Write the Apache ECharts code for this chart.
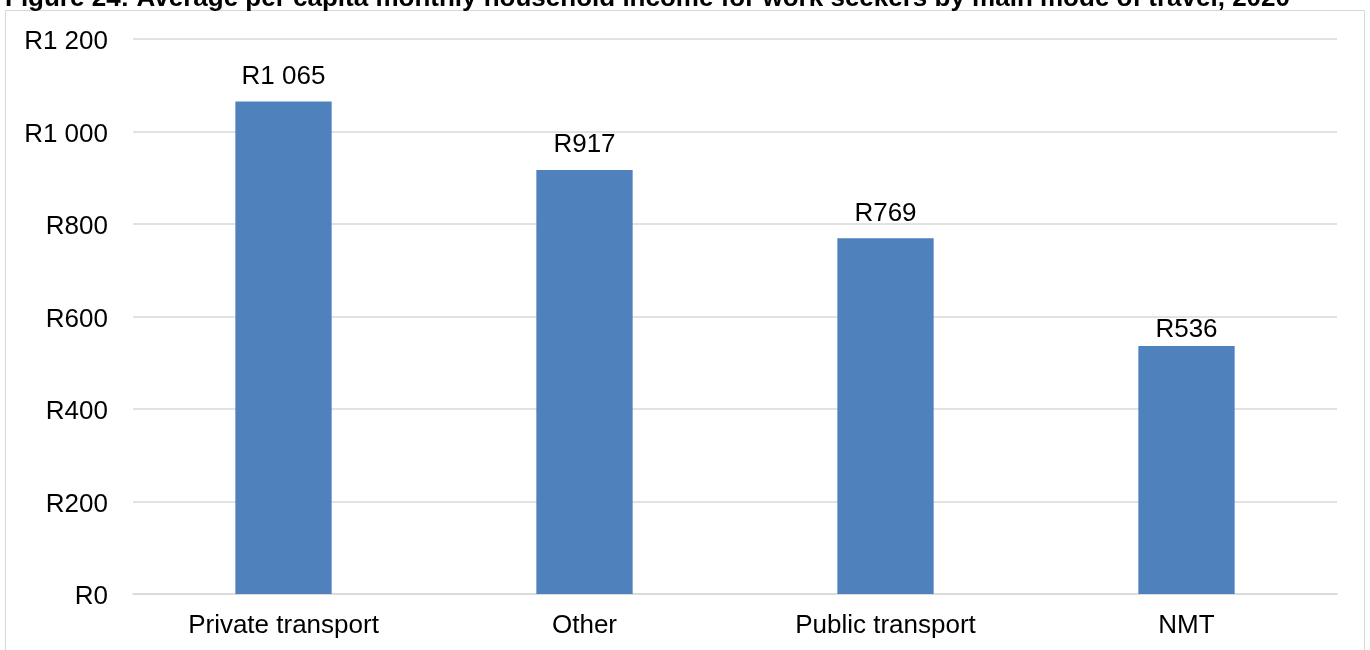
<!DOCTYPE html>
<html>
<head>
<meta charset="utf-8">
<script src="https://cdn.jsdelivr.net/npm/echarts@6/dist/echarts.min.js"></script>
<style>
  html, body { margin: 0; padding: 0; background: #fff; overflow: hidden; }
  #frame { position: absolute; left: 5px; top: 10px; width: 1360px; height: 700px;
           border: 1px solid #d9d9d9; box-sizing: border-box; }
  #chart { position: absolute; left: 0; top: 0; width: 1370px; height: 650px; }
</style>
</head>
<body>
<div id="frame"></div>
<div id="chart"></div>
<script>
// Average per capita monthly household income (Rand) by main mode of travel
const categories = ['Private transport', 'Other', 'Public transport', 'NMT'];
const incomeValues = [1065, 917, 769, 536];
const yTicks = [0, 200, 400, 600, 800, 1000, 1200];
const titleText = 'Figure 24: Average per capita monthly household income for work seekers by main mode of travel, 2020';

// Rand formatting with a space as thousands separator, e.g. R1 065
function rand(v) {
  const s = String(Math.round(v));
  return 'R' + s.replace(/\B(?=(\d{3})+(?!\d))/g, ' ');
}

const chart = echarts.init(document.getElementById('chart'), null, { renderer: 'canvas' });
const font = 'Liberation Sans, Arial, sans-serif';

// the NMT label sits a little closer to its bar
const barData = incomeValues.map((v, i) =>
  i === incomeValues.length - 1 ? { value: v, label: { distance: 3 } } : v);

chart.setOption({
  animation: false,
  backgroundColor: 'transparent',
  title: {
    text: titleText,
    left: 0,
    top: -19,
    textStyle: { fontFamily: font, fontSize: 26, fontWeight: 'bold', color: '#000' }
  },
  grid: { left: 133, right: 33, top: 39, bottom: 56, containLabel: false },
  xAxis: {
    type: 'category',
    data: categories,
    axisLine: { show: true, lineStyle: { color: '#d9d9d9', width: 1.5 } },
    axisTick: { show: false },
    axisLabel: { fontFamily: font, fontSize: 26, color: '#000', margin: 19 }
  },
  yAxis: {
    type: 'value',
    min: yTicks[0],
    max: yTicks[yTicks.length - 1],
    interval: 200,
    axisLine: { show: false },
    axisTick: { show: false },
    splitLine: { lineStyle: { color: '#d9d9d9', width: 1.5 } },
    axisLabel: {
      color: '#000', margin: 25,
      formatter: v => '{t|' + rand(v) + '}',
      rich: { t: { fontFamily: font, fontSize: 26, color: '#000', padding: [6, 0, 0, 0] } }
    }
  },
  series: [{
    type: 'bar',
    data: barData,
    barWidth: '32%',
    itemStyle: { color: '#4f81bd' },
    label: {
      show: true,
      position: 'top',
      distance: 12,
      fontFamily: font,
      fontSize: 26,
      color: '#000',
      formatter: p => rand(p.value)
    }
  }]
});
</script>
</body>
</html>
